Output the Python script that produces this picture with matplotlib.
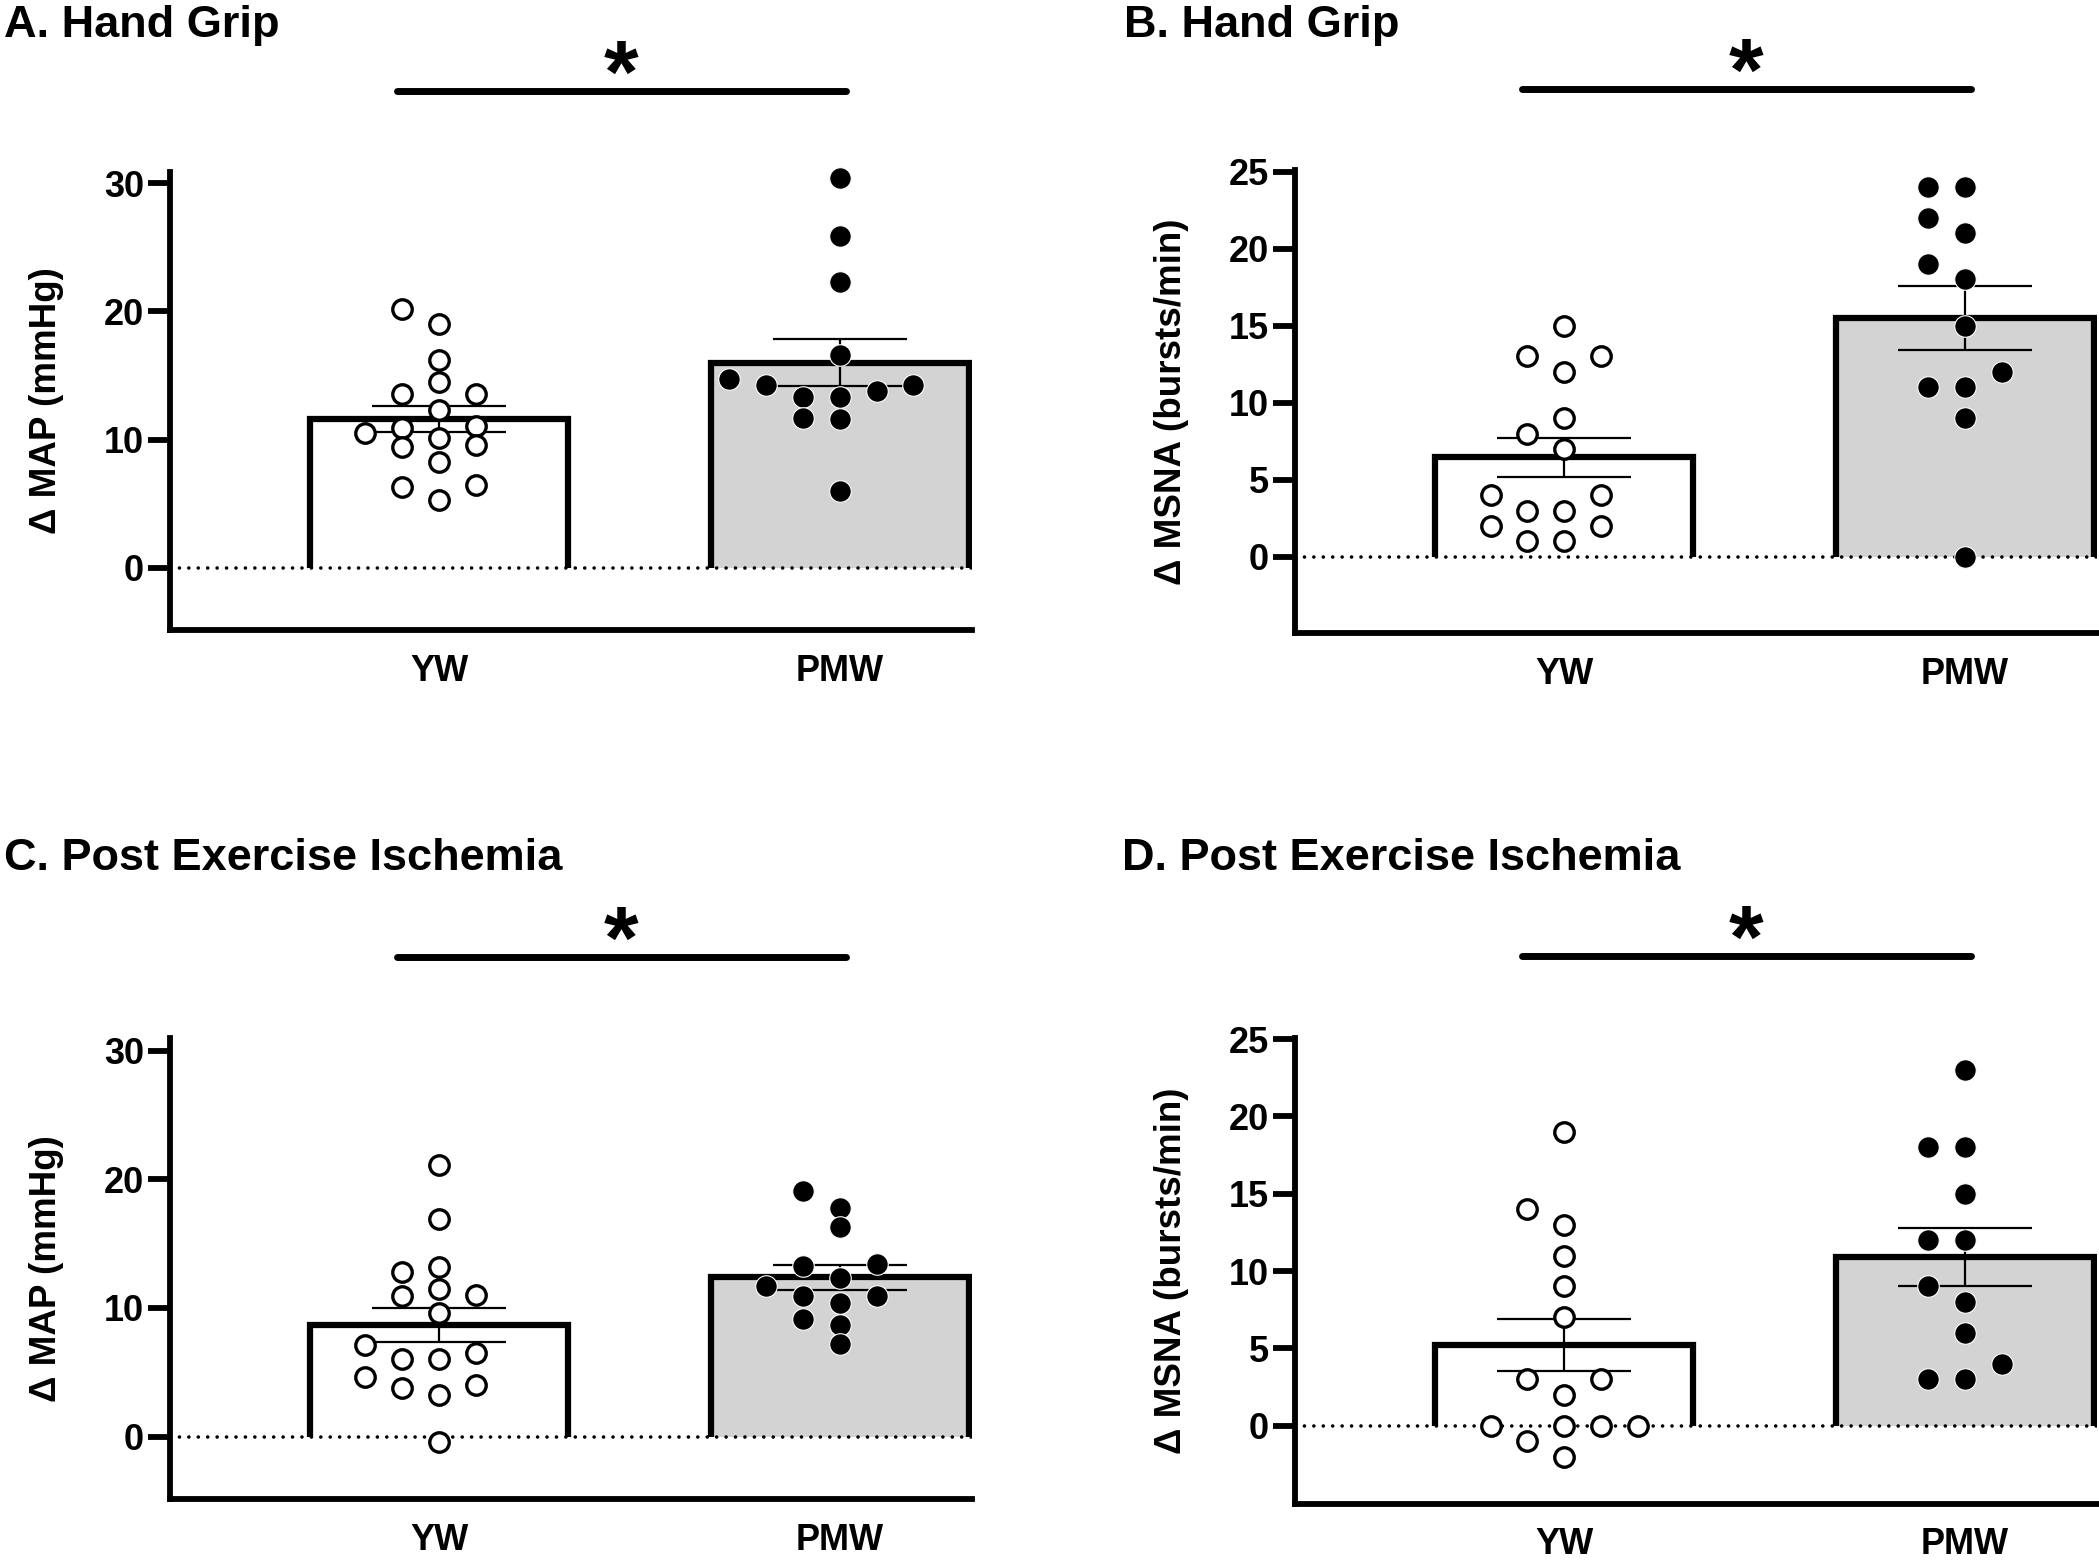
import numpy as np
import matplotlib
matplotlib.use('Agg')
import matplotlib.pyplot as plt
from matplotlib import transforms

plt.rcParams['font.family'] = ['Liberation Sans', 'DejaVu Sans']
plt.rcParams['font.weight'] = 'bold'
plt.rcParams['axes.labelweight'] = 'bold'

groups = ['YW', 'PMW']

# values, one list per group and panel
hg_map_yw = [20.2, 19.0, 16.2, 14.5, 13.6, 13.6, 12.3, 10.9, 11.1, 10.5, 10.1, 9.4, 9.6, 8.3, 6.5, 6.3, 5.3]
hg_map_pmw = [30.4, 25.9, 22.3, 16.6, 14.7, 14.3, 14.3, 13.8, 13.3, 13.3, 11.7, 11.6, 6.0]
hg_msna_yw = [15, 13, 13, 12, 9, 8, 7, 4, 4, 3, 3, 2, 2, 1, 1]
hg_msna_pmw = [24, 24, 22, 21, 19, 18, 15, 12, 11, 11, 9, 0]
pei_map_yw = [21.1, 16.9, 13.2, 12.8, 11.5, 11.0, 10.9, 9.6, 7.1, 6.5, 6.0, 6.0, 4.6, 4.0, 3.8, 3.2, -0.4]
pei_map_pmw = [19.1, 17.8, 16.3, 13.4, 13.3, 12.3, 11.7, 10.9, 10.9, 10.4, 9.15, 8.7, 7.2]
pei_msna_yw = [19, 14, 13, 11, 9, 7, 3, 3, 2, 0, 0, 0, 0, -1, -2]
pei_msna_pmw = [23, 18, 18, 15, 12, 12, 9, 8, 6, 4, 3, 3]

titles = ['A. Hand Grip', 'B. Hand Grip',
          'C. Post Exercise Ischemia', 'D. Post Exercise Ischemia']
ylabels = ['Δ MAP (mmHg)', 'Δ MSNA (bursts/min)',
           'Δ MAP (mmHg)', 'Δ MSNA (bursts/min)']
map_ticks = [0, 10, 20, 30]
msna_ticks = [0, 5, 10, 15, 20, 25]

panels = [
    (hg_map_yw, hg_map_pmw, map_ticks, (-4.83, 30.9)),
    (hg_msna_yw, hg_msna_pmw, msna_ticks, (-4.95, 25.1)),
    (pei_map_yw, pei_map_pmw, map_ticks, (-4.86, 31.0)),
    (pei_msna_yw, pei_msna_pmw, msna_ticks, (-5.04, 25.1)),
]

W, H = 2099, 1560
fig = plt.figure(figsize=(W / 100, H / 100), dpi=100)

# axes boxes in figure fractions
boxes = [[0.081, 0.5962, 0.382, 0.2938],
         [0.617, 0.5942, 0.382, 0.2968],
         [0.081, 0.0391, 0.382, 0.2955],
         [0.617, 0.0362, 0.382, 0.2987]]
title_pos = [(0.002, 0.9763), (0.5355, 0.9763), (0.002, 0.4423), (0.5345, 0.4423)]

bar_w = 0.645
step = 0.092
fills = ['white', '#d3d3d3']


def swarm(vals, min_dy):
    # greedy column layout, like a prism scatter
    vals = np.asarray(vals, dtype=float)
    cols = np.zeros(len(vals))
    placed = []
    for i in np.argsort(vals):
        y = vals[i]
        k = 0
        done = False
        while not done:
            for c in ([0] if k == 0 else [-k, k]):
                if all(pc != c or abs(py - y) >= min_dy for pc, py in placed):
                    cols[i] = c
                    placed.append((c, y))
                    done = True
                    break
            k += 1
    return cols * step


for n, (yw, pmw, ticks, ylim) in enumerate(panels):
    ax = fig.add_axes(boxes[n])
    ax.set_xlim(-0.672, 1.33)
    ax.set_ylim(*ylim)
    ax_h_px = boxes[n][3] * H
    ppu = ax_h_px / (ylim[1] - ylim[0])

    for i, vals in enumerate([yw, pmw]):
        vals = np.asarray(vals, dtype=float)
        m = vals.mean()
        sem = vals.std(ddof=1) / np.sqrt(len(vals))
        ax.bar(i, m, width=bar_w, color=fills[i], edgecolor='none', zorder=1)
        ax.plot([i - bar_w / 2, i - bar_w / 2, i + bar_w / 2, i + bar_w / 2],
                [0, m, m, 0], color='black', lw=4.5,
                solid_joinstyle='miter', solid_capstyle='butt', zorder=2)
        ax.errorbar(i, m, yerr=sem, fmt='none', ecolor='black',
                    elinewidth=1.6, capsize=48, capthick=1.6, zorder=3)
        xs = i + swarm(vals, 18 / ppu)
        if i == 0:
            ax.plot(xs, vals, 'o', ms=14, mfc='white', mec='black',
                    mew=2.4, zorder=5, clip_on=False)
        else:
            ax.plot(xs, vals, 'o', ms=15.5, mfc='black', mec='white',
                    mew=0.8, zorder=5, clip_on=False)

    ax.axhline(0, color='black', lw=2.6, dashes=(0.01, 2.6),
               dash_capstyle='round', zorder=2.5)

    for s in ['top', 'right']:
        ax.spines[s].set_visible(False)
    for s in ['left', 'bottom']:
        ax.spines[s].set_linewidth(4.2)
    ax.set_yticks(ticks)
    ax.set_xticks([0, 1])
    ax.set_xticklabels(groups)
    ax.tick_params(axis='y', direction='out', length=15.6, width=4.2,
                   pad=3, labelsize=26)
    ax.tick_params(axis='x', length=0, pad=17, labelsize=26)
    ax.set_ylabel(ylabels[n], fontsize=26.5, fontweight='bold')
    ax.yaxis.set_label_coords(-0.132, 0.5)

    # significance bar above the axes
    tr = transforms.blended_transform_factory(ax.transData, ax.transAxes)
    ax.plot([-0.105, 1.015], [1.175, 1.175], color='black', lw=5,
            solid_capstyle='round', transform=tr, clip_on=False)
    ax.text(0.455, 1.152, '*', transform=tr, ha='center', va='baseline',
            fontsize=64)

    fig.text(title_pos[n][0], title_pos[n][1], titles[n], fontsize=32.5,
             va='baseline', ha='left')

fig.savefig('out.png', dpi=100)
